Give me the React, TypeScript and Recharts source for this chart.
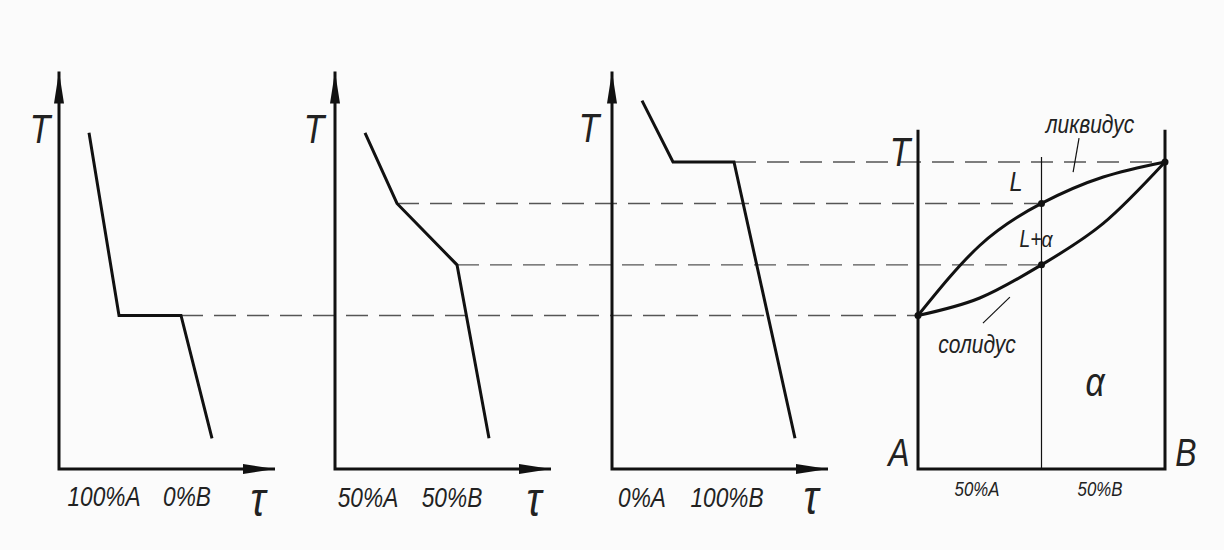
import { ComposedChart, Line, XAxis, YAxis, ReferenceLine, ReferenceDot } from "recharts";

const W = 1224;
const H = 550;

// temperature units (arbitrary degrees) and time units
const T_AXIS_TOP = 1295;
const TAU_AXIS_END = 216;

// cooling curve of pure A
const PURE_A_TAU = [30, 60, 122, 153];
const PURE_A_T = [1095, 500, 500, 100];
// cooling curve of the 50% alloy
const ALLOY_TAU = [30, 62, 122, 154];
const ALLOY_T = [1095, 865, 665, 100];
// cooling curve of pure B
const PURE_B_TAU = [30, 61, 122, 183];
const PURE_B_T = [1200, 1000, 1000, 100];

// phase diagram: % B vs temperature
const COMPOSITION = [0, 25, 50, 75, 100];
const LIQUIDUS_T = [500, 728, 865, 951, 1000];
const SOLIDUS_T = [500, 557, 665, 800, 1000];
const FRAME_TOP = 1105;
const ALLOY_PCT = 50;
const ALLOY_LINE_TOP = 1016;

// layout
const BASE_Y = 469; // pixel row of T = 0
const PX_PER_DEG = 0.307;
const TAU_PX = 1;
const PANEL_ORIGIN = [59, 335, 612];
const PHASE_LEFT = 918;
const PHASE_WIDTH = 247;

const tx = (panel: number, tau: number) => PANEL_ORIGIN[panel] + tau * TAU_PX;
const px = (pct: number) => PHASE_LEFT + (pct / 100) * PHASE_WIDTH;

const curve = (panel: number, taus: number[], temps: number[]) =>
  taus.map((t, i) => ({ x: tx(panel, t), T: temps[i] }));

const phaseCurve = (temps: number[]) => COMPOSITION.map((c, i) => ({ x: px(c), T: temps[i] }));

const INK = "#111";
const DASH = "#555";
const FONT = "'Liberation Sans', Arial, sans-serif";

function ArrowDot(props: any) {
  const { cx, cy, index } = props;
  if (index === 0) {
    return (
      <polygon key={`a${cx}-${index}`} points={`${cx},${cy} ${cx - 5},${cy + 32} ${cx + 5},${cy + 32}`} fill={INK} />
    );
  }
  if (index === 2) {
    return (
      <polygon key={`a${cx}-${index}`} points={`${cx},${cy} ${cx - 32},${cy - 5} ${cx - 32},${cy + 5}`} fill={INK} />
    );
  }
  return <g key={`a${cx}-${index}`} />;
}

const axisData = (panel: number) => [
  { x: tx(panel, 0), T: T_AXIS_TOP },
  { x: tx(panel, 0), T: 0 },
  { x: tx(panel, TAU_AXIS_END), T: 0 },
];

const frameData = [
  { x: px(0), T: FRAME_TOP },
  { x: px(0), T: 0 },
  { x: px(100), T: 0 },
  { x: px(100), T: FRAME_TOP },
];

const alloyLine = [
  { x: px(ALLOY_PCT), T: ALLOY_LINE_TOP },
  { x: px(ALLOY_PCT), T: 0 },
];

// dashed connectors: from knee of cooling curve to the phase diagram
const connectors = [
  { from: tx(0, PURE_A_TAU[2]), to: px(0), T: PURE_A_T[2] },
  { from: tx(1, ALLOY_TAU[1]), to: px(ALLOY_PCT), T: ALLOY_T[1] },
  { from: tx(1, ALLOY_TAU[2]), to: px(ALLOY_PCT), T: ALLOY_T[2] },
  { from: tx(2, PURE_B_TAU[2]), to: px(100), T: PURE_B_T[2] },
];

const leaders = [
  [{ x: px(65.2), y: 1078 }, { x: px(62.8), y: 967 }],
  [{ x: px(37.2), y: 560 }, { x: px(26.3), y: 475 }],
];

const markers = [
  { x: px(0), T: LIQUIDUS_T[0] },
  { x: px(100), T: LIQUIDUS_T[4] },
  { x: px(ALLOY_PCT), T: LIQUIDUS_T[2] },
  { x: px(ALLOY_PCT), T: SOLIDUS_T[2] },
];

type Lbl = { text: string; x: number; y: number; size: number };
const labels: Lbl[] = [
  { text: "T", x: 40, y: 129, size: 40 },
  { text: "100%A", x: 104, y: 497, size: 27 },
  { text: "0%B", x: 187, y: 497, size: 27 },
  { text: "τ", x: 258, y: 500, size: 48 },
  { text: "T", x: 314, y: 129, size: 40 },
  { text: "50%A", x: 368, y: 498, size: 27 },
  { text: "50%B", x: 452, y: 498, size: 27 },
  { text: "τ", x: 534, y: 500, size: 48 },
  { text: "T", x: 589, y: 128, size: 40 },
  { text: "0%A", x: 642, y: 498, size: 27 },
  { text: "100%B", x: 727, y: 498, size: 27 },
  { text: "τ", x: 811, y: 498, size: 48 },
  { text: "T", x: 900, y: 152, size: 40 },
  { text: "ликвидус", x: 1090, y: 124, size: 25 },
  { text: "L", x: 1016, y: 182, size: 28 },
  { text: "L+α", x: 1036, y: 239, size: 23 },
  { text: "солидус", x: 977, y: 344, size: 25 },
  { text: "α", x: 1095, y: 382, size: 40 },
  { text: "A", x: 899, y: 453, size: 38 },
  { text: "B", x: 1186, y: 453, size: 38 },
  { text: "50%A", x: 977, y: 489, size: 20 },
  { text: "50%B", x: 1100, y: 489, size: 20 },
];

export default function App() {
  const yDomain = [-(H - BASE_Y) / PX_PER_DEG, BASE_Y / PX_PER_DEG];
  const lineProps = { type: "linear" as const, stroke: INK, strokeWidth: 3, dot: false, activeDot: false, isAnimationActive: false };
  return (
    <div style={{ position: "absolute", left: 0, top: 0, width: W, height: H, background: "#fbfbfb" }}>
      <ComposedChart width={W} height={H} margin={{ top: 0, right: 0, bottom: 0, left: 0 }}>
        <XAxis dataKey="x" type="number" domain={[0, W]} allowDataOverflow hide />
        <YAxis dataKey="T" type="number" domain={yDomain} allowDataOverflow hide />

        {connectors.map((c, i) => (
          <ReferenceLine
            key={`c${i}`}
            segment={[{ x: c.from, y: c.T }, { x: c.to, y: c.T }]}
            stroke={DASH}
            strokeWidth={1.4}
            strokeDasharray="22 11"
          />
        ))}
        {leaders.map((s, i) => (
          <ReferenceLine key={`l${i}`} segment={s} stroke={INK} strokeWidth={1.2} />
        ))}

        {[0, 1, 2].map((p) => (
          <Line key={`ax${p}`} data={axisData(p)} dataKey="T" {...lineProps} dot={ArrowDot} />
        ))}

        <Line data={curve(0, PURE_A_TAU, PURE_A_T)} dataKey="T" {...lineProps} />
        <Line data={curve(1, ALLOY_TAU, ALLOY_T)} dataKey="T" {...lineProps} />
        <Line data={curve(2, PURE_B_TAU, PURE_B_T)} dataKey="T" {...lineProps} />

        <Line data={frameData} dataKey="T" {...lineProps} />
        <Line data={alloyLine} dataKey="T" {...lineProps} strokeWidth={1.2} />
        <Line data={phaseCurve(LIQUIDUS_T)} dataKey="T" {...lineProps} type="natural" />
        <Line data={phaseCurve(SOLIDUS_T)} dataKey="T" {...lineProps} type="natural" />

        {markers.map((m, i) => (
          <ReferenceDot key={`m${i}`} x={m.x} y={m.T} r={3.5} fill={INK} stroke="none" />
        ))}
      </ComposedChart>
      {labels.map((l, i) => (
        <div
          key={`t${i}`}
          style={{
            position: "absolute",
            left: l.x,
            top: l.y,
            transform: "translate(-50%, -50%) scaleX(0.84)",
            fontFamily: FONT,
            fontStyle: "italic",
            fontSize: l.size,
            lineHeight: 1,
            color: "#222",
            whiteSpace: "nowrap",
          }}
        >
          {l.text}
        </div>
      ))}
    </div>
  );
}
